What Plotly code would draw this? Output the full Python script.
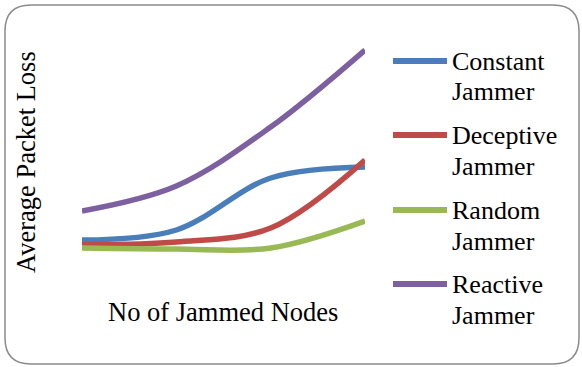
import plotly.graph_objects as go

# Chart data: average packet loss per jammer type over increasing jammed nodes
nodes = [1, 2, 3, 4]
series_names = ["Constant Jammer", "Deceptive Jammer", "Random Jammer", "Reactive Jammer"]
constant = [3.0, 4.0, 9.2, 10.3]
deceptive = [2.55, 2.8, 4.2, 11.0]
random_j = [2.2, 2.1, 2.2, 4.9]
reactive = [5.9, 8.4, 14.3, 22.0]
colors = ["#4A7EBB", "#BE4B48", "#98B954", "#7D60A0"]

W, H = 582, 367
FONT = "Times New Roman, Liberation Serif, serif"


def px(x):
    return x / W


def py(y):
    return 1 - y / H


fig = go.Figure()
for name, vals, col in zip(series_names, [constant, deceptive, random_j, reactive], colors):
    fig.add_trace(go.Scatter(
        x=nodes, y=vals, mode="lines", name=name,
        line=dict(color=col, width=5.5, shape="spline", smoothing=1.0),
        showlegend=False, hoverinfo="name+y",
    ))

# Rounded chart border
x0, y0, x1, y1, r = 5, 5, 579, 364, 26
path = (
    f"M {px(x0 + r)},{py(y0)} L {px(x1 - r)},{py(y0)} "
    f"Q {px(x1)},{py(y0)} {px(x1)},{py(y0 + r)} "
    f"L {px(x1)},{py(y1 - r)} Q {px(x1)},{py(y1)} {px(x1 - r)},{py(y1)} "
    f"L {px(x0 + r)},{py(y1)} Q {px(x0)},{py(y1)} {px(x0)},{py(y1 - r)} "
    f"L {px(x0)},{py(y0 + r)} Q {px(x0)},{py(y0)} {px(x0 + r)},{py(y0)} Z"
)
shapes = [dict(type="path", xref="paper", yref="paper", path=path,
               line=dict(color="#8a8a8a", width=1.5), layer="below")]

annotations = []
# Legend: line swatch plus two-line label per series
legend_y = [61, 135, 210, 284]
for name, col, ly in zip(series_names, colors, legend_y):
    shapes.append(dict(type="line", xref="paper", yref="paper",
                       x0=px(393), x1=px(447), y0=py(ly), y1=py(ly),
                       line=dict(color=col, width=6)))
    first, second = name.split(" ")
    annotations.append(dict(xref="paper", yref="paper", x=px(450), y=py(ly),
                            text=first, showarrow=False, xanchor="left", yanchor="middle",
                            font=dict(family=FONT, size=26, color="black")))
    annotations.append(dict(xref="paper", yref="paper", x=px(450), y=py(ly + 31),
                            text=second, showarrow=False, xanchor="left", yanchor="middle",
                            font=dict(family=FONT, size=26, color="black")))

# Axis titles
annotations.append(dict(xref="paper", yref="paper", x=px(26), y=py(162),
                        text="Average Packet Loss", showarrow=False, textangle=-90,
                        xanchor="center", yanchor="middle",
                        font=dict(family=FONT, size=26.5, color="black")))
annotations.append(dict(xref="paper", yref="paper", x=px(223), y=py(312),
                        text="No of Jammed Nodes", showarrow=False,
                        xanchor="center", yanchor="middle",
                        font=dict(family=FONT, size=26.5, color="black")))

fig.update_layout(
    width=W, height=H,
    margin=dict(l=0, r=0, t=0, b=0),
    paper_bgcolor="white", plot_bgcolor="white",
    font=dict(family=FONT),
    xaxis=dict(domain=[px(82), px(365)], range=[1, 4], visible=False),
    yaxis=dict(domain=[py(270), py(30)], range=[0, 24], visible=False),
    shapes=shapes, annotations=annotations,
    showlegend=False,
)

fig.write_html("out.html")
